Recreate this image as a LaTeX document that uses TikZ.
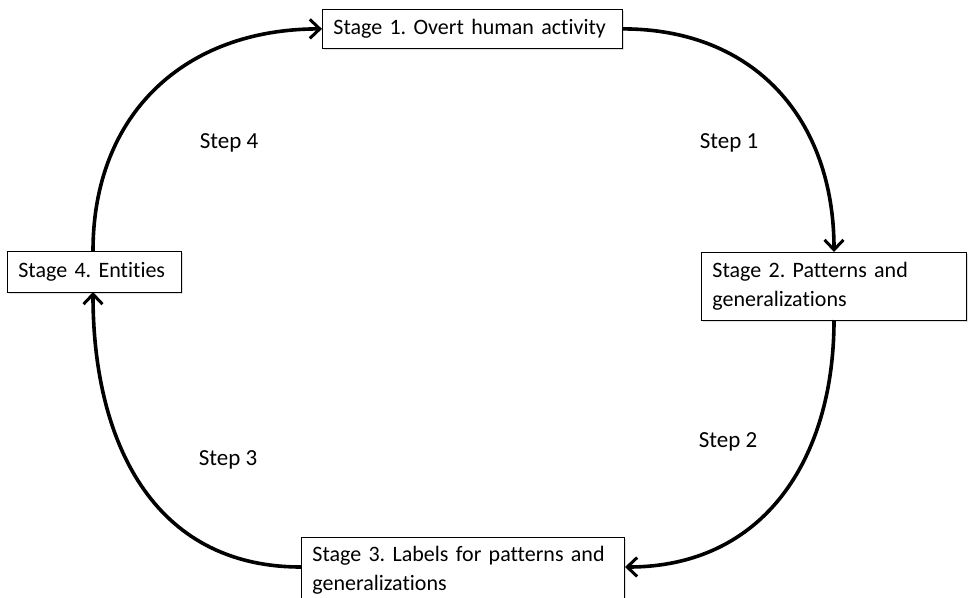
\documentclass[tikz,border=0pt]{standalone}
\usepackage{fontspec}
\setmainfont{Carlito}[Ligatures=NoCommon]
\usetikzlibrary{arrows.meta, shadows}

\tikzset{
  stage/.style = {draw, thick, fill=white, anchor=north west, align=left,
    inner xsep=11pt, inner ysep=0pt,
    font=\fontsize{22}{28.5}\selectfont,
    drop shadow={opacity=0.25, shadow xshift=1.5pt, shadow yshift=-1.5pt}},
  cycle/.style = {line width=3.6pt, -{Straight Barb[length=10pt, width=19pt, line width=3pt]}},
  steplabel/.style = {font=\fontsize{23}{26}\selectfont}
}

\begin{document}
\frenchspacing
\begin{tikzpicture}[x=1pt, y=-1pt]
\useasboundingbox (0,0) rectangle (968,597);
\clip (0,0) rectangle (968,597);

% the four stages
\node[stage, minimum width=300pt, minimum height=39pt, text width=278pt] (s1) at (322,9)
  {Stage 1. Overt human activity};
\node[stage, minimum width=265pt, minimum height=68pt, text width=243pt] (s2) at (701,252)
  {Stage 2. Patterns and\\generalizations};
\node[stage, minimum width=323pt, minimum height=66pt, text width=301pt] (s3) at (301,537)
  {Stage 3. Labels for patterns and\\generalizations};
\node[stage, minimum width=174pt, minimum height=41pt, text width=152pt] (s4) at (7,251)
  {Stage 4. Entities};

\coordinate (s3w) at (301,567);
\coordinate (s3e) at (625,567);
\coordinate (s2t) at (834,252);
\coordinate (s2b) at (834,320);
\coordinate (s4t) at (93,251);
\coordinate (s4b) at (93,292);

% arrows round the cycle
\draw[cycle] (s1.east) to[out=0, in=90, looseness=1.1] (s2t);
\draw[cycle] (s2b) to[out=-90, in=0, looseness=1.1] (s3e);
\draw[cycle] (s3w) to[out=180, in=-90, looseness=1.1] (s4b);
\draw[cycle] (s4t) to[out=90, in=180, looseness=1.1] (s1.west);

\node[steplabel] (step1) at (729,143) {Step 1};
\node[steplabel] (step2) at (728,442) {Step 2};
\node[steplabel] (step3) at (228,460) {Step 3};
\node[steplabel] (step4) at (229,143) {Step 4};
\end{tikzpicture}
\end{document}
